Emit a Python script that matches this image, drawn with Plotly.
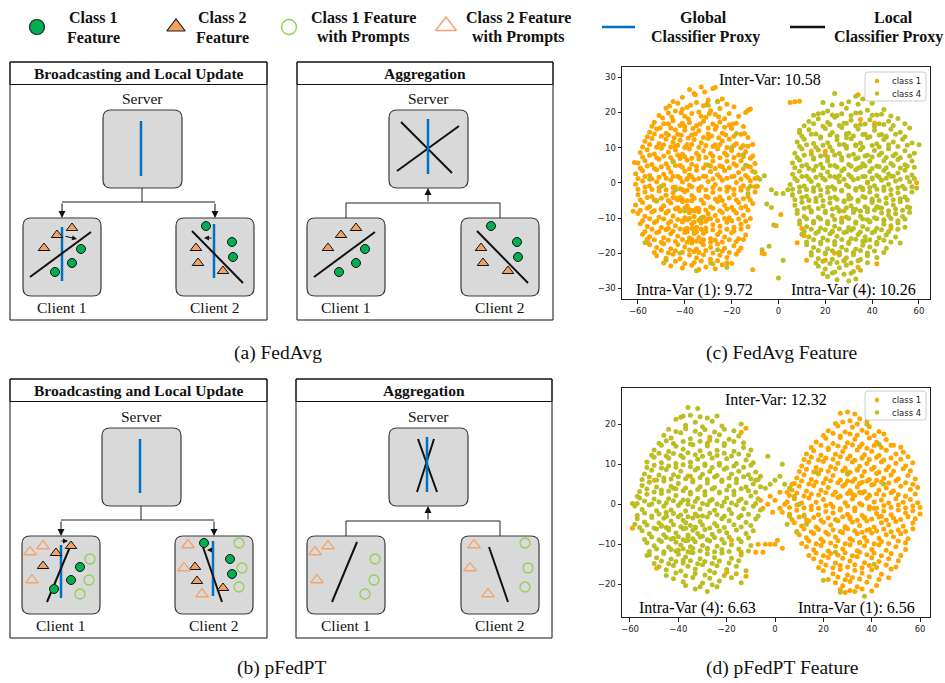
import plotly.graph_objects as go

W, H = 945, 683

# ---------------- t-SNE feature coordinates ----------------
# FedAvg features: class 1 (left cluster) and class 4 (right cluster)
fedavg_class1 = [
    (-38, 26.5), (-33, 27.2), (-28, 26.8), (-27, 27.1),
    (-45, 23.1), (-41, 24.3), (-36, 25.4), (-30, 23.5), (-26, 23.2), (-24, 23.8), (-22, 22.3),
    (-48, 21.2), (-43, 22.6), (-39, 21.5), (-35, 22.8), (-32, 21.9), (-29, 20.5), (-19, 21.6),
    (-51, 19.1), (-47, 19.8), (-44, 20.4), (-40, 18.9), (-37, 19.7), (-34, 20.1), (-31, 18.6),
    (-27, 19.4), (-23, 18.2), (-17, 18.9), (-13, 20.6),
    (-53, 17.2), (-49, 16.8), (-45, 17.6), (-42, 16.3), (-38, 17.1), (-35, 16.2), (-32, 17.5),
    (-28, 16.7), (-25, 17.3), (-21, 16.4), (-18, 16.9),
    (-55, 14.4), (-52, 15.3), (-48, 14.1), (-46, 15.6), (-43, 13.8), (-40, 14.9), (-37, 13.6),
    (-34, 14.8), (-30, 13.9), (-27, 15.2), (-24, 14.1), (-20, 15.4), (-16, 13.8), (-13, 12.9),
    (-57, 11.8), (-54, 12.6), (-51, 11.2), (-48, 12.4), (-45, 11.5), (-42, 12.1), (-39, 10.9),
    (-36, 12.3), (-33, 11.4), (-30, 12.6), (-27, 10.8), (-24, 11.9), (-21, 12.4), (-18, 11.1),
    (-15, 10.6), (-11, 10.9),
    (-59, 8.6), (-56, 9.4), (-53, 8.2), (-50, 9.8), (-47, 8.7), (-44, 9.3), (-41, 8.1), (-38, 9.6),
    (-35, 8.4), (-32, 9.1), (-29, 8.3), (-26, 9.7), (-23, 8.5), (-20, 9.2), (-17, 7.9), (-14, 8.8),
    (-11, 7.6),
    (-60, 5.6), (-57, 6.3), (-54, 5.2), (-51, 6.7), (-48, 5.4), (-45, 6.1), (-42, 4.9), (-39, 6.4),
    (-37, 5.3), (-34, 6.8), (-31, 5.1), (-28, 6.2), (-25, 4.8), (-22, 6.1), (-19, 5.4), (-16, 6.3),
    (-13, 4.7), (-10, 5.5),
    (-61, 2.6), (-58, 3.4), (-55, 2.1), (-52, 3.7), (-49, 2.4), (-46, 3.1), (-43, 1.8), (-40, 3.3),
    (-38, 2.2), (-35, 3.6), (-32, 1.9), (-29, 3.2), (-26, 2.3), (-23, 3.5), (-20, 1.7), (-17, 2.9),
    (-14, 2.1), (-11, 3.3), (-9, 1.5),
    (-61, -0.4), (-58, 0.5), (-55, -0.9), (-52, 0.3), (-49, -0.6), (-46, 0.8), (-44, -1.2),
    (-41, 0.2), (-38, -0.7), (-36, 0.9), (-33, -1.1), (-30, 0.4), (-27, -0.5), (-24, 0.7),
    (-21, -1.3), (-18, 0.1), (-15, -0.8), (-12, 0.5), (-9, -1.0),
    (-60, -3.4), (-57, -2.6), (-54, -3.9), (-51, -2.3), (-48, -3.5), (-45, -2.8), (-42, -4.1),
    (-40, -2.5), (-37, -3.6), (-34, -2.2), (-31, -3.8), (-28, -2.7), (-25, -4.0), (-22, -2.4),
    (-19, -3.3), (-16, -2.1), (-13, -3.9), (-10, -2.6),
    (-61, -6.3), (-58, -5.6), (-55, -6.8), (-52, -5.2), (-49, -6.5), (-46, -5.7), (-43, -7.1),
    (-41, -5.4), (-39, -6.6), (-37, -5.1), (-35, -7.2), (-32, -5.8), (-29, -6.9), (-26, -5.3),
    (-23, -6.4), (-20, -7.0), (-17, -5.6), (-14, -6.7), (-11, -5.9),
    (-60, -8.7), (-57, -9.5), (-54, -8.3), (-51, -9.8), (-48, -8.6), (-45, -9.4), (-42, -8.1),
    (-40, -9.9), (-38, -8.5), (-36, -9.6), (-34, -8.2), (-32, -9.7), (-30, -8.8), (-27, -9.3),
    (-24, -8.4), (-21, -9.9), (-18, -8.6), (-15, -9.2), (-12, -10.1),
    (-59, -11.6), (-56, -12.4), (-53, -11.3), (-50, -12.7), (-47, -11.5), (-44, -12.2),
    (-41, -11.1), (-39, -12.9), (-37, -11.7), (-35, -12.6), (-33, -11.4), (-31, -12.8),
    (-28, -11.9), (-25, -12.3), (-22, -11.2), (-19, -12.6), (-16, -11.8), (-13, -12.5),
    (-58, -14.6), (-55, -15.3), (-52, -14.2), (-49, -15.6), (-46, -14.5), (-43, -15.2),
    (-40, -14.1), (-38, -15.7), (-36, -14.4), (-34, -15.5), (-32, -14.3), (-29, -15.8),
    (-26, -14.7), (-23, -15.4), (-20, -14.2), (-17, -15.9), (-14, -14.8),
    (-55, -17.6), (-52, -18.4), (-49, -17.3), (-46, -18.7), (-43, -17.5), (-40, -18.2),
    (-37, -17.1), (-35, -18.8), (-32, -17.6), (-29, -18.3), (-26, -17.4), (-23, -18.6),
    (-19, -17.9), (-16, -18.5),
    (-52, -20.7), (-48, -21.4), (-45, -20.3), (-42, -21.6), (-38, -20.5), (-35, -21.3),
    (-32, -20.4), (-29, -21.7), (-25, -20.6), (-22, -21.2), (-18, -20.3),
    (-46, -23.6), (-41, -24.2), (-37, -23.4), (-34, -24.6), (-31, -23.9), (-27, -24.4),
    (-24, -23.3), (-20, -22.9),
    (-35.5, 25.0), (-31.5, 25.8),
    (-46.5, 21.8), (-41, 20.9), (-37.5, 22.0), (-30.5, 22.4), (-25, 21.1),
    (-49.5, 18.4), (-45.5, 18.7), (-41.5, 19.9), (-38.5, 18.2), (-33, 18.9), (-29.5, 19.6),
    (-25.5, 18.8), (-21, 19.7),
    (-54, 16.1), (-50.5, 15.6), (-47, 16.8), (-44, 15.1), (-41, 16.9), (-36.5, 15.4),
    (-33.5, 16.7), (-30, 15.6), (-26.5, 16.0), (-23, 15.8), (-19.5, 16.7), (-15, 16.0),
    (-56, 13.1), (-53, 13.9), (-50, 13.2), (-47, 13.6), (-44.5, 12.8), (-41.5, 13.5),
    (-38.5, 12.7), (-35.5, 13.9), (-32, 12.9), (-28.5, 13.3), (-25.5, 12.8), (-22.5, 13.6),
    (-19, 13.2), (-14.5, 14.0),
    (-58, 10.2), (-55, 10.9), (-52, 10.1), (-49, 10.8), (-46, 10.2), (-43, 10.7), (-40, 10.0),
    (-37, 10.9), (-34, 10.1), (-31, 10.6), (-28, 10.3), (-25, 10.9), (-22, 10.0), (-19, 10.6),
    (-16, 9.9), (-13, 10.4),
    (-58, 7.3), (-55, 7.8), (-52, 7.1), (-49, 7.6), (-46, 7.2), (-43, 7.9), (-40, 7.4), (-37, 7.0),
    (-34, 7.7), (-31, 7.2), (-28, 7.6), (-25, 7.1), (-22, 7.8), (-19, 7.2), (-15, 7.4), (-12, 7.0),
    (-59, 4.2), (-56, 4.8), (-53, 4.1), (-50, 4.6), (-47, 4.3), (-44, 4.9), (-41, 4.4), (-38, 4.0),
    (-35, 4.7), (-32, 4.2), (-29, 4.8), (-27, 4.1), (-24, 4.6), (-21, 4.3), (-18, 4.9), (-15, 4.0),
    (-12, 4.5),
    (-60, 1.2), (-57, 1.8), (-54, 1.1), (-51, 1.6), (-48, 1.3), (-45, 1.9), (-42, 1.4), (-39, 1.0),
    (-37, 1.7), (-34, 1.2), (-31, 1.8), (-28, 1.1), (-25, 1.6), (-22, 1.3), (-19, 1.9), (-16, 1.0),
    (-13, 1.5), (-10, 1.2),
    (-60, -1.8), (-57, -1.2), (-54, -1.9), (-51, -1.4), (-48, -2.0), (-45, -1.3), (-42, -1.7),
    (-39, -2.1), (-37, -1.1), (-34, -1.6), (-31, -2.0), (-28, -1.3), (-25, -1.8), (-22, -1.2),
    (-19, -1.9), (-16, -1.4), (-13, -1.7), (-10, -1.1),
    (-59, -4.8), (-56, -4.2), (-53, -4.9), (-50, -4.4), (-47, -5.0), (-44, -4.3), (-41, -4.7),
    (-39, -5.1), (-36, -4.4), (-33, -4.9), (-30, -4.2), (-27, -4.6), (-24, -5.0), (-21, -4.3),
    (-18, -4.8), (-15, -4.5), (-12, -4.9),
    (-59, -7.8), (-56, -7.2), (-53, -7.9), (-50, -7.3), (-47, -8.0), (-44, -7.4), (-42, -7.8),
    (-40, -7.1), (-38, -7.6), (-36, -8.0), (-34, -7.3), (-31, -7.7), (-28, -7.2), (-25, -7.9),
    (-22, -7.4), (-19, -7.8), (-16, -7.1), (-13, -7.7),
    (-58, -10.8), (-55, -10.2), (-52, -10.9), (-49, -10.3), (-46, -11.0), (-43, -10.4),
    (-41, -10.8), (-38, -10.1), (-36, -11.1), (-33, -10.3), (-31, -10.9), (-29, -10.2),
    (-26, -10.7), (-23, -10.1), (-20, -10.8), (-17, -10.3), (-14, -10.9),
    (-57, -13.8), (-54, -13.2), (-51, -13.9), (-48, -13.3), (-45, -13.7), (-42, -13.1),
    (-39, -13.9), (-37, -13.0), (-35, -14.0), (-33, -13.2), (-31, -13.8), (-28, -13.3),
    (-25, -13.9), (-22, -13.2), (-19, -13.7), (-16, -13.1),
    (-56, -16.8), (-53, -16.2), (-50, -16.9), (-47, -16.3), (-44, -16.7), (-41, -16.1),
    (-39, -16.9), (-37, -16.0), (-35, -16.6), (-32, -16.2), (-29, -16.9), (-27, -16.3),
    (-24, -16.8), (-21, -16.2), (-18, -16.7), (-15, -16.1),
    (-53, -19.8), (-50, -19.2), (-47, -19.9), (-44, -19.3), (-41, -19.7), (-38, -19.1),
    (-34, -19.8), (-31, -19.2), (-28, -19.9), (-24, -19.4), (-21, -19.8), (-17, -19.3),
    (-49, -22.8), (-44, -22.3), (-40, -22.9), (-36, -22.6), (-33, -22.2), (-29, -22.8),
    (-26, -22.1), (-22, -22.7),
    (-39, -10.5), (-36, -13.5), (-34, -10.6), (-38, -16.4), (-40, -13.2), (-37, -7.8),
    (-43, -4.8), (-41, -1.9), (-45, -4.2), (-39, 1.2), (-42, 6.9), (-36, -19.5), (-33, -16.9),
    (-30, -10.2), (-44, 10.4), (-40, 16.0), (-47, -12.9), (-50, -7.6),
    (-62, -8.1), (-61.5, 5.8), (-56, -16.0), (-11, -24.7),
    (7, 23.0), (9, 23.2), (5, 22.8), (-14, 20.0), (-12, 21.0), (-7, -20.0), (-6, -20.2),
    (-1, -12.2), (1, -9.0), (10, -13.0), (11, -15.0), (20, -22.0), (24, -20.0), (28, -22.0),
    (34, -24.0), (42, -23.0), (48, -13.0), (59, 0.0), (40, -5.0), (38, 0.0), (35, 18.0),
    (41, 17.0), (27, -10.0), (20, 9.0), (23, -14.0), (13, -5.0), (14, 9.0), (34, 25.0),
    (46, 13.0), (12, -22.0), (8, -17.0),
]

fedavg_class4 = [
    (24, 25.4), (27, 22.4), (33, 24.6), (36, 23.8),
    (17, 19.6), (21, 20.4), (25, 19.1), (29, 21.2), (33, 19.8), (38, 20.6), (42, 19.3), (45, 20.8),
    (13, 17.4), (17, 18.2), (21, 17.1), (24, 18.6), (28, 16.9), (31, 17.8), (35, 16.6), (39, 17.9),
    (43, 16.8), (47, 17.5), (51, 18.3),
    (9, 14.2), (13, 15.1), (16, 13.9), (20, 15.4), (23, 14.3), (27, 15.7), (30, 14.1), (34, 15.3),
    (37, 13.8), (41, 14.9), (44, 13.7), (48, 15.2), (52, 14.4), (56, 15.6),
    (8, 11.6), (11, 12.4), (15, 11.2), (18, 12.7), (21, 11.4), (25, 12.2), (28, 10.9), (31, 12.5),
    (35, 11.3), (38, 12.8), (42, 11.1), (45, 12.3), (49, 11.6), (53, 12.4), (57, 11.3),
    (7, 8.4), (10, 9.6), (14, 8.2), (17, 9.3), (20, 7.9), (23, 9.1), (26, 8.3), (29, 9.8), (32, 8.1),
    (35, 9.4), (38, 7.8), (41, 9.2), (44, 8.5), (47, 9.7), (50, 8.2), (54, 9.1), (58, 8.4),
    (6, 5.6), (9, 6.4), (12, 5.1), (15, 6.7), (18, 5.3), (21, 6.2), (24, 4.9), (27, 6.5), (30, 5.2),
    (33, 6.8), (36, 5.4), (39, 6.1), (42, 4.8), (45, 6.3), (48, 5.5), (51, 6.6), (54, 5.1), (57, 6.2),
    (6, 2.4), (9, 3.3), (12, 1.9), (15, 3.6), (18, 2.2), (21, 3.1), (24, 1.7), (27, 3.4), (30, 2.3),
    (33, 3.7), (36, 1.8), (39, 3.2), (42, 2.1), (45, 3.5), (48, 1.9), (51, 2.8), (54, 3.6), (57, 2.2),
    (5, -0.5), (8, 0.6), (11, -0.9), (14, 0.4), (17, -0.7), (20, 0.8), (23, -1.1), (26, 0.3),
    (29, -0.6), (32, 0.9), (35, -1.2), (38, 0.2), (41, -0.8), (44, 0.7), (47, -0.4), (50, 0.5),
    (53, -1.0), (56, 0.3),
    (6, -3.3), (9, -2.5), (12, -3.8), (15, -2.4), (18, -3.6), (21, -2.7), (24, -4.1), (27, -2.3),
    (30, -3.5), (33, -2.1), (36, -3.9), (39, -2.6), (42, -3.7), (45, -2.2), (48, -3.4), (51, -2.8),
    (54, -4.0), (57, -2.6),
    (7, -6.4), (10, -5.5), (13, -6.9), (16, -5.3), (19, -6.6), (22, -5.7), (25, -7.0), (28, -5.4),
    (31, -6.5), (34, -5.2), (37, -6.8), (40, -5.6), (43, -7.1), (46, -5.8), (49, -6.3), (52, -5.4),
    (55, -6.9),
    (8, -8.7), (11, -9.6), (14, -8.3), (17, -9.8), (20, -8.5), (23, -9.3), (26, -8.1), (29, -9.7),
    (32, -8.4), (35, -9.5), (38, -8.2), (41, -9.9), (44, -8.6), (47, -9.2), (50, -8.8), (53, -9.6),
    (56, -8.4),
    (9, -11.7), (12, -12.5), (15, -11.4), (18, -12.8), (21, -11.6), (24, -12.3), (27, -11.2),
    (30, -12.7), (33, -11.5), (36, -12.4), (39, -11.1), (42, -12.9), (45, -11.8), (48, -12.2),
    (51, -11.4), (54, -12.6),
    (10, -14.6), (13, -15.4), (16, -14.3), (19, -15.7), (22, -14.5), (25, -15.2), (28, -14.1),
    (31, -15.8), (34, -14.7), (37, -15.3), (40, -14.2), (43, -15.6), (46, -14.8), (50, -15.4),
    (12, -17.6), (15, -18.4), (18, -17.3), (21, -18.7), (24, -17.5), (27, -18.3), (30, -17.2),
    (33, -18.8), (36, -17.7), (39, -18.2), (42, -17.4), (46, -18.6), (52, -17.1),
    (14, -20.6), (17, -21.5), (20, -20.2), (23, -21.7), (26, -20.5), (29, -21.3), (32, -20.4),
    (35, -21.8), (38, -20.7), (42, -21.2),
    (17, -23.7), (20, -24.5), (23, -25.6), (26, -24.1), (29, -23.4), (32, -25.2), (35, -24.8),
    (21, -26.6), (25, -27.5), (30, -27.9), (33, -27.3),
    (19, 22.8), (23, 22.1), (30, 23.0), (34, 22.3), (40, 22.6),
    (15, 19.2), (19, 19.8), (23, 19.3), (27, 19.6), (31, 19.1), (35, 19.9), (40, 19.2), (44, 19.5),
    (48, 19.0),
    (11, 16.2), (15, 16.8), (19, 16.1), (22, 16.6), (26, 16.3), (29, 16.9), (33, 16.2), (37, 16.7),
    (41, 16.1), (45, 16.6), (49, 16.3), (54, 16.8),
    (10, 13.2), (14, 13.8), (18, 13.1), (22, 13.6), (25, 13.2), (29, 13.9), (32, 13.3), (36, 13.7),
    (39, 13.1), (43, 13.6), (46, 13.2), (50, 13.8), (54, 13.1),
    (9, 10.3), (12, 10.8), (16, 10.1), (19, 10.7), (22, 10.2), (26, 10.9), (29, 10.4), (33, 10.8),
    (36, 10.1), (40, 10.6), (43, 10.2), (47, 10.8), (51, 10.3), (55, 10.7),
    (8, 7.2), (11, 7.8), (15, 7.1), (18, 7.6), (21, 7.3), (24, 7.9), (27, 7.2), (30, 7.7), (34, 7.1),
    (37, 7.6), (40, 7.3), (43, 7.9), (46, 7.2), (49, 7.7), (52, 7.1), (56, 7.6),
    (7, 4.3), (10, 4.8), (13, 4.1), (16, 4.7), (19, 4.2), (22, 4.9), (25, 4.4), (28, 4.0), (31, 4.7),
    (34, 4.2), (37, 4.8), (40, 4.1), (43, 4.6), (46, 4.3), (49, 4.9), (52, 4.2), (55, 4.7), (58, 4.4),
    (7, 1.2), (10, 1.8), (13, 1.1), (16, 1.6), (19, 1.3), (22, 1.9), (25, 1.4), (28, 1.0), (31, 1.7),
    (34, 1.2), (37, 1.8), (40, 1.1), (43, 1.6), (46, 1.3), (49, 1.9), (52, 1.0), (55, 1.5), (58, 1.2),
    (6, -1.8), (9, -1.2), (12, -1.9), (15, -1.4), (18, -2.0), (21, -1.3), (24, -1.7), (27, -2.1),
    (30, -1.1), (33, -1.6), (36, -2.0), (39, -1.3), (42, -1.8), (45, -1.2), (48, -1.9), (51, -1.4),
    (54, -1.7), (57, -1.1),
    (7, -4.8), (10, -4.2), (13, -4.9), (16, -4.4), (19, -5.0), (22, -4.3), (25, -4.7), (28, -5.1),
    (31, -4.4), (34, -4.9), (37, -4.2), (40, -4.6), (43, -5.0), (46, -4.3), (49, -4.8), (52, -4.5),
    (55, -4.9),
    (8, -7.8), (11, -7.2), (14, -7.9), (17, -7.3), (20, -8.0), (23, -7.4), (26, -7.8), (29, -7.1),
    (32, -7.6), (35, -8.0), (38, -7.3), (41, -7.7), (44, -7.2), (47, -7.9), (50, -7.4), (53, -7.8),
    (56, -7.1),
    (9, -10.8), (12, -10.2), (15, -10.9), (18, -10.3), (21, -11.0), (24, -10.4), (27, -10.8),
    (30, -10.1), (33, -11.1), (36, -10.3), (39, -10.9), (42, -10.2), (45, -10.7), (48, -10.1),
    (51, -10.8), (54, -10.3),
    (11, -13.8), (14, -13.2), (17, -13.9), (20, -13.3), (23, -13.7), (26, -13.1), (29, -13.9),
    (32, -13.0), (35, -14.0), (38, -13.2), (41, -13.8), (44, -13.3), (47, -13.9), (51, -13.2),
    (12, -16.8), (15, -16.2), (18, -16.9), (21, -16.3), (24, -16.7), (27, -16.1), (30, -16.9),
    (33, -16.0), (36, -16.6), (39, -16.2), (42, -16.9), (45, -16.3), (48, -16.8),
    (14, -19.8), (17, -19.2), (20, -19.9), (23, -19.3), (26, -19.7), (29, -19.1), (32, -19.8),
    (35, -19.2), (38, -19.9), (41, -19.4), (45, -19.8),
    (16, -22.8), (19, -22.3), (22, -22.9), (25, -22.6), (28, -22.2), (31, -22.8), (34, -22.1),
    (38, -22.7),
    (19, -25.8), (24, -25.3), (28, -26.0), (31, -25.7),
    (30, -4.6), (33, -7.5), (36, -1.6), (38, -10.5), (40, 1.4), (35, 4.4), (28, -8.0), (31, -13.5),
    (42, -6.8), (26, 2.0), (45, -10.5), (33, 10.5), (24, -1.8), (47, 2.5), (37, -16.5), (29, 12.8),
    (9, 14.9), (60, 10.8), (59, -1.5),
    (-10, 3.0), (-8, 1.0), (-6, 2.0), (-3, -2.0), (-1, -3.0), (2, -3.0), (4, -2.0), (6, -3.5),
    (-5, -6.0), (-3, -7.0), (-2, -12.0), (-4, -18.0), (-7, -19.0), (0, -27.0), (2, -22.0),
    (-12, -1.0), (-14, 5.0), (-13, -3.0),
    (-57, -17.0), (-48, -22.0), (-42, -20.0), (-35, -25.0), (-28, -23.0), (-22, -24.0),
    (-26, -19.0), (-52, -5.0), (-55, 1.0), (-45, 6.0), (-30, 5.0), (-30, 22.0), (-26, 23.0),
    (-20, 10.0), (-18, 14.0), (-15, 8.0), (-40, -8.0), (-33, -10.0), (-50, -1.0), (-44, -2.0),
]

# pFedPT features: class 4 (left cluster) and class 1 (right cluster)
pfedpt_class4 = [
    (-36, 24.2), (-32, 24.0), (-38, 22.1), (-28, 21.6),
    (-41, 21.3), (-37, 19.8), (-33, 20.5), (-30, 19.4), (-26, 20.8), (-22, 19.6), (-14, 20.1),
    (-46, 17.3), (-43, 16.6), (-39, 17.9), (-35, 16.4), (-31, 17.5), (-27, 16.8), (-23, 17.4),
    (-19, 16.3), (-15, 17.1),
    (-50, 13.6), (-47, 14.8), (-44, 13.2), (-41, 14.5), (-38, 13.8), (-34, 14.9), (-31, 13.4),
    (-28, 14.6), (-24, 13.5), (-21, 14.7), (-17, 13.3), (-13, 14.2), (-10, 13.6),
    (-53, 10.6), (-50, 11.8), (-47, 10.4), (-44, 11.5), (-41, 10.2), (-38, 11.7), (-35, 10.5),
    (-32, 11.3), (-29, 10.1), (-26, 11.6), (-23, 10.3), (-20, 11.4), (-16, 10.2), (-12, 11.1),
    (-9, 10.4),
    (-54, 7.6), (-51, 8.5), (-48, 7.3), (-45, 8.7), (-42, 7.4), (-39, 8.3), (-36, 7.1), (-33, 8.6),
    (-30, 7.5), (-27, 8.2), (-24, 7.2), (-21, 8.8), (-18, 7.6), (-15, 8.3), (-11, 7.4), (-8, 8.1),
    (-55, 4.7), (-52, 5.5), (-49, 4.3), (-46, 5.8), (-43, 4.5), (-40, 5.2), (-37, 4.1), (-34, 5.6),
    (-31, 4.4), (-28, 5.3), (-25, 4.2), (-22, 5.7), (-19, 4.6), (-16, 5.4), (-12, 4.3), (-9, 5.1),
    (-6, 4.4),
    (-56, 1.6), (-53, 2.5), (-50, 1.3), (-47, 2.7), (-44, 1.4), (-41, 2.2), (-38, 1.1), (-35, 2.6),
    (-32, 1.5), (-29, 2.3), (-26, 1.2), (-23, 2.8), (-20, 1.6), (-17, 2.4), (-14, 1.3), (-10, 2.1),
    (-7, 1.4),
    (-58, -0.4), (-55, -1.3), (-52, -0.2), (-49, -1.6), (-46, -0.5), (-43, -1.4), (-40, -0.3),
    (-37, -1.7), (-34, -0.6), (-31, -1.2), (-28, -0.1), (-25, -1.5), (-22, -0.4), (-19, -1.3),
    (-16, -0.2), (-13, -1.1), (-9, -0.5), (-6, -1.4),
    (-57, -3.6), (-54, -4.4), (-51, -3.3), (-48, -4.7), (-46, -3.5), (-43, -4.2), (-40, -3.1),
    (-37, -4.6), (-34, -3.4), (-31, -4.3), (-28, -3.2), (-25, -4.8), (-22, -3.6), (-19, -4.1),
    (-15, -3.3), (-12, -4.5), (-8, -3.7),
    (-55, -6.6), (-52, -7.4), (-49, -6.2), (-46, -7.6), (-44, -6.4), (-41, -7.2), (-38, -6.1),
    (-36, -7.7), (-34, -6.5), (-32, -7.3), (-29, -6.3), (-26, -7.5), (-23, -6.7), (-20, -7.1),
    (-16, -6.4), (-12, -7.3), (-9, -6.6),
    (-53, -9.6), (-50, -10.4), (-47, -9.3), (-44, -10.7), (-41, -9.5), (-39, -10.2), (-37, -9.1),
    (-35, -10.6), (-33, -9.4), (-30, -10.3), (-27, -9.2), (-24, -10.5), (-21, -9.7), (-18, -10.1),
    (-14, -9.4), (-10, -10.3),
    (-52, -12.6), (-49, -13.4), (-46, -12.3), (-43, -13.7), (-40, -12.5), (-37, -13.2),
    (-34, -12.1), (-31, -13.6), (-28, -12.4), (-25, -13.3), (-22, -12.2), (-18, -13.5),
    (-14, -12.7),
    (-48, -15.6), (-45, -16.4), (-42, -15.3), (-39, -16.7), (-36, -15.5), (-33, -16.2),
    (-30, -15.1), (-27, -16.6), (-24, -15.4), (-20, -16.3), (-16, -15.5), (-12, -16.6),
    (-42, -18.6), (-38, -19.4), (-34, -18.3), (-30, -19.7), (-27, -18.5), (-23, -19.2),
    (-18, -18.4), (-14, -19.6),
    (-33, -21.2), (-28, -21.8), (-24, -20.6),
    (-39, 21.8), (-35, 22.3), (-31, 21.9), (-24, 22.1),
    (-44, 18.8), (-41, 18.2), (-37, 18.9), (-33, 18.3), (-29, 18.7), (-25, 18.1), (-21, 18.8),
    (-17, 18.4),
    (-48, 15.3), (-45, 15.9), (-42, 15.2), (-38, 15.7), (-35, 15.1), (-31, 15.8), (-28, 15.3),
    (-24, 15.9), (-21, 15.2), (-17, 15.7), (-13, 15.4),
    (-51, 12.3), (-48, 12.8), (-45, 12.1), (-42, 12.7), (-39, 12.2), (-36, 12.9), (-33, 12.4),
    (-30, 12.0), (-27, 12.7), (-24, 12.2), (-21, 12.8), (-18, 12.1), (-15, 12.6), (-11, 12.3),
    (-53, 9.2), (-50, 9.8), (-47, 9.1), (-44, 9.6), (-41, 9.3), (-38, 9.9), (-35, 9.4), (-32, 9.0),
    (-29, 9.7), (-26, 9.2), (-23, 9.8), (-20, 9.1), (-17, 9.6), (-13, 9.3), (-10, 9.8),
    (-55, 6.2), (-52, 6.8), (-49, 6.1), (-46, 6.6), (-43, 6.3), (-40, 6.9), (-37, 6.4), (-34, 6.0),
    (-31, 6.7), (-28, 6.2), (-25, 6.8), (-22, 6.1), (-19, 6.6), (-16, 6.3), (-13, 6.9), (-10, 6.4),
    (-7, 6.2),
    (-56, 3.2), (-53, 3.8), (-50, 3.1), (-47, 3.6), (-44, 3.3), (-41, 3.9), (-38, 3.4), (-35, 3.0),
    (-32, 3.7), (-29, 3.2), (-26, 3.8), (-23, 3.1), (-20, 3.6), (-17, 3.3), (-14, 3.9), (-11, 3.4),
    (-8, 3.0),
    (-57, 0.2), (-54, 0.8), (-51, 0.1), (-48, 0.6), (-45, 0.3), (-42, 0.9), (-39, 0.4), (-36, 0.0),
    (-33, 0.7), (-30, 0.2), (-27, 0.8), (-24, 0.1), (-21, 0.6), (-18, 0.3), (-15, 0.9), (-12, 0.4),
    (-8, 0.2),
    (-57, -2.8), (-54, -2.2), (-51, -2.9), (-48, -2.4), (-45, -3.0), (-42, -2.3), (-39, -2.7),
    (-36, -3.1), (-33, -2.4), (-30, -2.9), (-27, -2.2), (-24, -2.6), (-21, -3.0), (-18, -2.3),
    (-14, -2.8), (-11, -2.5), (-7, -2.9),
    (-56, -5.8), (-53, -5.2), (-50, -5.9), (-47, -5.3), (-45, -5.8), (-42, -5.1), (-39, -5.6),
    (-37, -6.0), (-35, -5.3), (-33, -5.7), (-30, -5.2), (-27, -5.9), (-24, -5.4), (-21, -5.8),
    (-17, -5.1), (-14, -5.7), (-10, -5.3),
    (-54, -8.8), (-51, -8.2), (-48, -8.9), (-45, -8.3), (-43, -8.7), (-40, -8.1), (-38, -8.9),
    (-36, -8.0), (-34, -8.6), (-31, -8.2), (-28, -8.9), (-25, -8.3), (-22, -8.8), (-19, -8.2),
    (-15, -8.7), (-11, -8.4),
    (-52, -11.8), (-49, -11.2), (-46, -11.9), (-43, -11.3), (-41, -11.7), (-38, -11.1),
    (-36, -11.9), (-34, -11.0), (-31, -11.6), (-28, -11.2), (-25, -11.9), (-22, -11.3),
    (-19, -11.8), (-15, -11.2), (-11, -11.7),
    (-50, -14.8), (-47, -14.2), (-44, -14.9), (-41, -14.3), (-38, -14.7), (-35, -14.1),
    (-32, -14.9), (-29, -14.3), (-26, -14.8), (-23, -14.2), (-19, -14.7), (-15, -14.1),
    (-45, -17.8), (-41, -17.2), (-37, -17.9), (-33, -17.3), (-29, -17.7), (-25, -17.1),
    (-21, -17.8), (-16, -17.4),
    (-37, -20.3), (-31, -20.6), (-26, -20.1),
    (-59, 0.2), (-58, -5.0), (-57, 2.0), (-53, -12.8),
    (-36, -9.0), (-33, -6.0), (-38, -4.0), (-42, -8.5), (-35, -12.0), (-30, -8.0), (-45, -2.0),
    (-40, -11.5), (-32, -3.0), (-44, -6.0), (-38, -14.0), (-28, -11.0), (-47, -5.5), (-36, 1.0),
    (-42, 4.0),
    (-8, 6.0), (-6, 7.0), (-4, 4.0), (-2, 5.0), (0, 6.0), (2, 7.0), (4, 5.0), (6, 4.0), (3, 10.0),
    (-3, 12.0), (8, 2.0), (10, 0.0), (6, -3.0), (9, -7.0), (13, -5.0), (12, -3.0), (5, -5.0),
    (20, -19.0), (27, -22.0), (37, -23.0), (38, 20.0), (43, 15.0), (17, 8.0), (25, -12.0),
    (30, 8.0), (45, 5.0), (41, -15.0),
]

pfedpt_class1 = [
    (27, 22.8), (30, 23.1), (33, 22.6), (28, 20.6), (35, 21.4),
    (22, 18.4), (26, 19.6), (29, 18.1), (32, 19.3), (36, 18.5), (39, 19.4), (43, 18.2),
    (17, 15.6), (21, 16.5), (24, 15.2), (27, 16.7), (30, 15.4), (33, 16.3), (36, 15.1), (39, 16.6),
    (42, 15.5), (46, 16.2), (49, 14.8),
    (13, 12.6), (16, 13.4), (19, 12.3), (22, 13.7), (25, 12.5), (28, 13.2), (31, 12.1), (34, 13.6),
    (37, 12.4), (40, 13.3), (43, 12.2), (46, 13.5), (50, 12.6), (53, 13.1),
    (11, 9.6), (14, 10.5), (17, 9.2), (20, 10.7), (23, 9.4), (26, 10.3), (29, 9.1), (32, 10.6),
    (35, 9.5), (38, 10.2), (41, 9.3), (44, 10.6), (47, 9.4), (50, 10.3), (54, 9.6), (57, 10.4),
    (9, 6.6), (12, 7.4), (15, 6.2), (18, 7.6), (21, 6.4), (24, 7.2), (27, 6.1), (30, 7.5), (33, 6.3),
    (36, 7.1), (39, 6.2), (42, 7.7), (45, 6.5), (48, 7.3), (51, 6.4), (55, 7.2), (58, 6.3),
    (7, 3.6), (10, 4.5), (13, 3.3), (16, 4.7), (19, 3.5), (22, 4.2), (25, 3.1), (28, 4.6), (31, 3.4),
    (34, 4.3), (37, 3.2), (40, 4.8), (43, 3.6), (46, 4.1), (49, 3.3), (52, 4.5), (56, 3.7), (59, 4.2),
    (5, 0.6), (8, 1.4), (11, 0.3), (14, 1.6), (17, 0.5), (20, 1.2), (23, 0.1), (26, 1.7), (29, 0.4),
    (32, 1.3), (35, 0.2), (38, 1.5), (41, 0.6), (44, 1.1), (47, 0.3), (50, 1.4), (53, 0.5), (56, 1.2),
    (59, 0.4),
    (6, -2.4), (9, -1.5), (12, -2.7), (15, -1.3), (18, -2.6), (21, -1.8), (24, -2.2), (27, -1.4),
    (30, -2.5), (33, -1.6), (36, -2.8), (39, -1.2), (42, -2.3), (45, -1.7), (48, -2.6), (51, -1.4),
    (54, -2.2), (57, -1.6), (60, -2.4),
    (8, -4.6), (11, -5.4), (14, -4.2), (17, -5.7), (20, -4.5), (23, -5.2), (26, -4.1), (29, -5.6),
    (32, -4.4), (35, -5.3), (38, -4.2), (41, -5.7), (44, -4.6), (47, -5.1), (50, -4.3), (53, -5.5),
    (57, -4.7),
    (10, -7.6), (13, -8.4), (16, -7.3), (19, -8.7), (22, -7.5), (25, -8.2), (28, -7.1), (31, -8.6),
    (34, -7.4), (37, -8.3), (40, -7.2), (43, -8.5), (46, -7.6), (49, -8.1), (52, -7.4), (55, -8.6),
    (13, -10.6), (16, -11.4), (19, -10.3), (22, -11.7), (25, -10.5), (28, -11.2), (31, -10.1),
    (34, -11.6), (37, -10.4), (40, -11.3), (43, -10.2), (46, -11.5), (50, -10.6), (54, -11.3),
    (16, -13.6), (19, -14.4), (22, -13.3), (25, -14.7), (28, -13.5), (31, -14.2), (34, -13.1),
    (37, -14.6), (40, -13.4), (43, -14.3), (47, -13.6), (51, -14.1),
    (20, -16.6), (24, -17.4), (27, -16.3), (30, -17.7), (33, -16.5), (36, -17.2), (40, -16.4),
    (44, -17.5), (48, -16.2),
    (25, -19.6), (28, -20.4), (31, -19.3), (34, -20.6), (38, -19.5), (42, -20.3),
    (29, -22.1), (33, -21.8),
    (25, 20.2), (31, 20.9), (34, 20.1), (38, 20.7),
    (20, 17.2), (24, 17.8), (27, 17.1), (31, 17.6), (34, 17.3), (38, 17.9), (41, 17.2), (45, 17.6),
    (15, 14.2), (19, 14.8), (22, 14.1), (26, 14.6), (29, 14.3), (32, 14.9), (35, 14.4), (38, 14.0),
    (41, 14.7), (44, 14.2), (48, 14.8), (52, 14.3),
    (12, 11.2), (15, 11.8), (18, 11.1), (21, 11.6), (24, 11.3), (27, 11.9), (30, 11.4), (33, 11.0),
    (36, 11.7), (39, 11.2), (42, 11.8), (45, 11.1), (48, 11.6), (52, 11.3), (55, 11.9),
    (10, 8.2), (13, 8.8), (16, 8.1), (19, 8.6), (22, 8.3), (25, 8.9), (28, 8.4), (31, 8.0), (34, 8.7),
    (37, 8.2), (40, 8.8), (43, 8.1), (46, 8.6), (49, 8.3), (53, 8.9), (56, 8.4),
    (8, 5.2), (11, 5.8), (14, 5.1), (17, 5.6), (20, 5.3), (23, 5.9), (26, 5.4), (29, 5.0), (32, 5.7),
    (35, 5.2), (38, 5.8), (41, 5.1), (44, 5.6), (47, 5.3), (50, 5.9), (54, 5.4), (57, 5.0),
    (6, 2.2), (9, 2.8), (12, 2.1), (15, 2.6), (18, 2.3), (21, 2.9), (24, 2.4), (27, 2.0), (30, 2.7),
    (33, 2.2), (36, 2.8), (39, 2.1), (42, 2.6), (45, 2.3), (48, 2.9), (51, 2.4), (54, 2.0), (58, 2.6),
    (6, -0.8), (9, -0.2), (12, -0.9), (15, -0.4), (18, -1.0), (21, -0.3), (24, -0.7), (27, -1.1),
    (30, -0.4), (33, -0.9), (36, -0.2), (39, -0.6), (42, -1.0), (45, -0.3), (48, -0.8), (51, -0.2),
    (54, -0.9), (57, -0.4), (60, -0.8),
    (7, -3.8), (10, -3.2), (13, -3.9), (16, -3.3), (19, -4.0), (22, -3.4), (25, -3.8), (28, -3.1),
    (31, -3.6), (34, -4.0), (37, -3.3), (40, -3.7), (43, -3.2), (46, -3.9), (49, -3.4), (52, -3.8),
    (55, -3.1), (58, -3.6),
    (9, -6.8), (12, -6.2), (15, -6.9), (18, -6.3), (21, -7.0), (24, -6.4), (27, -6.8), (30, -6.1),
    (33, -6.6), (36, -7.0), (39, -6.3), (42, -6.7), (45, -6.2), (48, -6.9), (51, -6.4), (54, -6.8),
    (57, -6.1),
    (11, -9.8), (14, -9.2), (17, -9.9), (20, -9.3), (23, -9.7), (26, -9.1), (29, -9.9), (32, -9.0),
    (35, -9.6), (38, -9.2), (41, -9.9), (44, -9.3), (47, -9.8), (51, -9.2), (54, -9.7),
    (14, -12.8), (17, -12.2), (20, -12.9), (23, -12.3), (26, -12.7), (29, -12.1), (32, -12.9),
    (35, -12.0), (38, -12.6), (41, -12.2), (44, -12.9), (48, -12.3), (52, -12.8),
    (18, -15.8), (21, -15.2), (24, -15.9), (27, -15.3), (30, -15.7), (33, -15.1), (36, -15.9),
    (39, -15.3), (42, -15.8), (46, -15.2), (50, -15.7),
    (22, -18.8), (26, -18.2), (29, -18.9), (32, -18.3), (35, -18.7), (39, -18.1), (43, -18.8),
    (47, -18.4),
    (27, -21.3), (31, -21.6), (36, -21.2), (40, -21.7),
    (35, 3.0), (33, -1.0), (37, -3.5), (36, 5.5), (32, 2.6), (38, -6.5), (34, 8.5), (31, -3.2),
    (39, 2.3), (41, -1.0), (35, -9.5), (30, 5.8), (42, 6.0), (36, 11.5), (29, -6.0), (44, -3.0),
    (-3, 0.0), (-2, 2.0), (-1, -2.0), (0, 1.0), (2, -1.0), (4, 0.0), (-5, -1.0), (-6, 1.0),
    (-4, -10.0), (-2, -10.0), (0, -10.0), (1, -9.0), (3, -2.0), (5, 3.0), (7, 5.0), (-7, -10.0),
    (-8, -12.0), (-5, -12.0), (3, -11.0), (2, 3.0),
    (-59, -6.0), (-49, -16.0), (-50, 6.0), (-35, 7.0), (-27, 16.0), (-14, 18.0), (-12, 19.0),
    (-18, -9.0), (-14, -12.0), (-20, -17.0), (-12, -18.0), (-45, -3.0),
]

fedavg_notes = ["Inter-Var: 10.58", "Intra-Var (1): 9.72", "Intra-Var (4): 10.26"]
pfedpt_notes = ["Inter-Var: 12.32", "Intra-Var (4): 6.63", "Intra-Var (1): 6.56"]
legend_classes = ["class 1", "class 4"]
x_ticks = [-60, -40, -20, 0, 20, 40, 60]
fedavg_y_ticks = [-30, -20, -10, 0, 10, 20, 30]
pfedpt_y_ticks = [-20, -10, 0, 10, 20]
captions = ["(a) FedAvg", "(c) FedAvg Feature", "(b) pFedPT", "(d) pFedPT Feature"]

# ---------------- schematic contents (pixel offsets inside a client box) ----------------
client_sets = {
    "fedavg_c1": dict(tri=[(49, 10), (34, 17), (21, 30)], circ=[(58, 31), (49, 45), (32, 54)],
                      tri_open=[], circ_open=[], local=[(7, 59), (68, 14)],
                      glob=(39, 9, 63), drift=((41, 18), (54, 21))),
    "fedavg_c2": dict(tri=[(20, 30), (22, 45), (47, 53)], circ=[(30, 8), (56, 24), (57, 39)],
                      tri_open=[], circ_open=[], local=[(16, 13), (67, 65)],
                      glob=(38, 6, 60), drift=((37, 20), (28, 20))),
    "pfedpt_c1": dict(tri=[(49, 10), (34, 17), (21, 30)], circ=[(58, 31), (49, 44), (32, 53)],
                      tri_open=[(8, 16), (21, 10), (10, 44)], circ_open=[(68, 23), (67, 44), (58, 58)],
                      local=[(25, 66), (50, 6)], glob=(39, 9, 62), drift=((38, 5), (46, 5))),
    "pfedpt_c2": dict(tri=[(20, 31), (22, 45), (48, 52)], circ=[(29, 7), (55, 23), (57, 38)],
                      tri_open=[(13, 9), (9, 32), (27, 58)], circ_open=[(64, 7), (67, 32), (64, 51)],
                      local=[(28, 11), (47, 66)], glob=(38, 5, 60), drift=((38, 14), (32, 14))),
}

# ---------------- colours & fonts ----------------
ORANGE = "#ffa500"
OLIVE = "#bcbd22"
GREEN = "#00b050"
LIGHT_GREEN = "#92d050"
TRI_FILL = "#f4a261"
TRI_OPEN = "#f4a46c"
BLUE = "#0070c0"
BOX_GRAY = "#d9d9d9"
SERIF = "Liberation Serif"
SANS = "DejaVu Sans"

fig = go.Figure()
shapes = []
anns = []


def px_trace(x, y, **kw):
    fig.add_trace(go.Scatter(x=x, y=y, xaxis="x3", yaxis="y3", showlegend=False,
                             hoverinfo="skip", **kw))


def rrect_path(x0, y0, x1, y1, r):
    return (f"M{x0 + r},{y0} L{x1 - r},{y0} Q{x1},{y0} {x1},{y0 + r} L{x1},{y1 - r} "
            f"Q{x1},{y1} {x1 - r},{y1} L{x0 + r},{y1} Q{x0},{y1} {x0},{y1 - r} "
            f"L{x0},{y0 + r} Q{x0},{y0} {x0 + r},{y0} Z")


def add_rrect(x0, y0, x1, y1, r=8, fill=BOX_GRAY, line="#3a3a3a", lw=1.2):
    shapes.append(dict(type="path", path=rrect_path(x0, y0, x1, y1, r), xref="x3", yref="y3",
                       fillcolor=fill, line=dict(color=line, width=lw), layer="below"))


def add_rect(x0, y0, x1, y1, line="#111", lw=1, fill=None):
    shapes.append(dict(type="rect", x0=x0, y0=y0, x1=x1, y1=y1, xref="x3", yref="y3",
                       line=dict(color=line, width=lw), fillcolor=fill or "rgba(0,0,0,0)",
                       layer="below"))


def add_line(x0, y0, x1, y1, color="#222", lw=1):
    shapes.append(dict(type="line", x0=x0, y0=y0, x1=x1, y1=y1, xref="x3", yref="y3",
                       line=dict(color=color, width=lw)))


def add_text(x, y, s, size, bold=False, family=SERIF, color="#111", xanchor="center"):
    anns.append(dict(x=x, y=y, xref="x3", yref="y3", text=f"<b>{s}</b>" if bold else s,
                     showarrow=False, font=dict(family=family, size=size, color=color),
                     xanchor=xanchor, yanchor="middle"))


def add_arrow(x0, y0, x1, y1, head=2, size=1.4, width=1, color="#111"):
    anns.append(dict(x=x1, y=y1, ax=x0, ay=y0, xref="x3", yref="y3", axref="x3", ayref="y3",
                     text="", showarrow=True, arrowhead=head, arrowsize=size, arrowwidth=width,
                     arrowcolor=color, standoff=0))


def draw_markers(ox, oy, c, show_global):
    if show_global:
        gx, gy0, gy1 = c["glob"]
        px_trace([ox + gx, ox + gx], [oy + gy0, oy + gy1], mode="lines",
                 line=dict(color=BLUE, width=2.5))
    (lx0, ly0), (lx1, ly1) = c["local"]
    px_trace([ox + lx0, ox + lx1], [oy + ly0, oy + ly1], mode="lines",
             line=dict(color="#111", width=2))
    # plain features appear everywhere in FedAvg, and only during local update in pFedPT
    if show_global or not c["tri_open"]:
        for key, sym, fill in (("tri", "triangle-up", TRI_FILL), ("circ", "circle", GREEN)):
            pts = c[key]
            px_trace([ox + p[0] for p in pts], [oy + p[1] for p in pts], mode="markers",
                     marker=dict(symbol=sym, size=9 if sym == "circle" else 10, color=fill,
                                 line=dict(color="#111", width=1)))
    for key, sym, col in (("tri_open", "triangle-up-open", TRI_OPEN),
                          ("circ_open", "circle-open", LIGHT_GREEN)):
        pts = c[key]
        if pts:
            px_trace([ox + p[0] for p in pts], [oy + p[1] for p in pts], mode="markers",
                     marker=dict(symbol=sym, size=10 if sym == "circle-open" else 11, color=col,
                                 line=dict(color=col, width=1.3)))
    if show_global:
        (ax0, ay0), (ax1, ay1) = c["drift"]
        add_arrow(ox + ax0, oy + ay0, ox + ax1, oy + ay1, head=2, size=1.0, width=1)


def draw_panel(frame, title, server_xy, clients, sets, stage, server_lines):
    x0, y0, x1, y1 = frame
    add_rect(x0, y0, x1, y1)
    add_rect(x0, y0, x1, y0 + 22.5)
    add_text((x0 + x1) / 2, y0 + 11.5, title, 15.5, bold=True)
    sx, sy = server_xy
    add_rrect(sx, sy, sx + 79, sy + 78)
    add_text(sx + 39.5, sy - 12, "Server", 15.5)
    for (a, b), color, lw in server_lines:
        px_trace([sx + a[0], sx + b[0]], [sy + a[1], sy + b[1]], mode="lines",
                 line=dict(color=color, width=lw))
    centers = []
    for (cx, cy), key, label in zip(clients, sets, ("Client 1", "Client 2")):
        add_rrect(cx, cy, cx + 78, cy + 78)
        add_text(cx + 39, cy + 89, label, 15.5)
        draw_markers(cx, cy, client_sets[key], stage == "local")
        centers.append(cx + 39)
    top = clients[0][1]
    scx = sx + 39
    if stage == "local":
        bus = sy + 78 + 14
        add_line(scx, sy + 78, scx, bus)
        add_line(centers[0], bus, centers[1], bus)
        for c in centers:
            add_arrow(c, bus, c, top, head=2, size=1.4)
    else:
        bus = top - 15
        for c in centers:
            add_line(c, top, c, bus)
        add_line(centers[0], bus, centers[1], bus)
        add_arrow(scx, bus, scx, sy + 78, head=2, size=1.4)


def blue_local(x, a, b):
    return [(((x, a), (x, b)), BLUE, 2.5)]


draw_panel((10, 62, 267, 320), "Broadcasting and Local Update", (103, 110),
           [(23, 218), (176, 218)], ["fedavg_c1", "fedavg_c2"], "local",
           blue_local(38, 11, 66))
draw_panel((297, 62, 553, 320), "Aggregation", (389, 110),
           [(307, 218), (461, 218)], ["fedavg_c1", "fedavg_c2"], "agg",
           [(((12, 12), (63, 63)), "#111", 2), (((8, 61), (70, 16)), "#111", 2)]
           + blue_local(39, 9, 64))
draw_panel((10, 379, 267, 638), "Broadcasting and Local Update", (102, 428),
           [(22, 536), (175, 536)], ["pfedpt_c1", "pfedpt_c2"], "local",
           blue_local(38, 11, 65))
draw_panel((296, 379, 552, 638), "Aggregation", (389, 428),
           [(307, 536), (461, 536)], ["pfedpt_c1", "pfedpt_c2"], "agg",
           [(((29, 11), (48, 64)), "#111", 2), (((28, 64), (45, 11)), "#111", 2)]
           + blue_local(38, 9, 64))

# ---------------- top legend ----------------
px_trace([37], [27], mode="markers",
         marker=dict(symbol="circle", size=15, color=GREEN, line=dict(color="#222", width=1.2)))
px_trace([176], [27], mode="markers",
         marker=dict(symbol="triangle-up", size=16, color=TRI_FILL, line=dict(color="#222", width=1.2)))
px_trace([289], [27], mode="markers",
         marker=dict(symbol="circle-open", size=15, color=LIGHT_GREEN, line=dict(color=LIGHT_GREEN, width=1.4)))
px_trace([446], [26], mode="markers",
         marker=dict(symbol="triangle-up-open", size=18, color=TRI_OPEN, line=dict(color=TRI_OPEN, width=1.4)))
px_trace([602, 635], [27, 27], mode="lines", line=dict(color=BLUE, width=2.5))
px_trace([790, 825], [27, 27], mode="lines", line=dict(color="#111", width=2.5))
legend_text = [(93, 93, "Class 1", "Feature"), (222, 222, "Class 2", "Feature"),
               (363, 363, "Class 1 Feature", "with Prompts"),
               (518, 518, "Class 2 Feature", "with Prompts"),
               (703, 705, "Global", "Classifier Proxy"), (893, 888, "Local", "Classifier Proxy")]
for x1, x2, l1, l2 in legend_text:
    add_text(x1, 17, l1, 16, bold=True)
    add_text(x2, 37, l2, 16, bold=True)

# ---------------- captions ----------------
for (x, y), s in zip([(278, 353), (781, 353), (281, 668), (782, 668)], captions):
    add_text(x, y, s, 19.5)

# ---------------- feature scatter plots ----------------
def scatter(points, color, xa, ya):
    fig.add_trace(go.Scatter(x=[p[0] for p in points], y=[p[1] for p in points], mode="markers",
                             marker=dict(color=color, size=5, line=dict(width=0)),
                             xaxis=xa, yaxis=ya, showlegend=False, hoverinfo="skip"))


scatter(fedavg_class1, ORANGE, "x", "y")
scatter(fedavg_class4, OLIVE, "x", "y")
scatter(pfedpt_class1, ORANGE, "x2", "y2")
scatter(pfedpt_class4, OLIVE, "x2", "y2")

for notes, ys, xs in ((fedavg_notes, (79, 290, 290), (770, 694, 853)),
                      (pfedpt_notes, (399, 608, 608), (776, 697, 856))):
    for s, y, x in zip(notes, ys, xs):
        add_text(x, y, s, 16, color="#000")

# small legends inside each feature plot
for top in (72, 391):
    add_rrect(865, top, 926, top + 29, r=3, fill="rgba(255,255,255,0.85)", line="#cccccc", lw=1)
    for i, (name, col) in enumerate(zip(legend_classes, (ORANGE, OLIVE))):
        yy = top + 9 + i * 12.5
        px_trace([877], [yy], mode="markers", marker=dict(color=col, size=4.5))
        add_text(890, yy, name, 8.5, family=SANS, color="#222", xanchor="left")

axis_style = dict(showline=True, mirror=True, linecolor="#222", linewidth=1, ticks="outside",
                  ticklen=3.5, tickwidth=0.8, tickcolor="#222", showgrid=False, zeroline=False,
                  tickfont=dict(family=SANS, size=8.5, color="#222"), fixedrange=True)
dom_x = [622 / W, 930 / W]

fig.update_layout(
    width=W, height=H, autosize=False, margin=dict(l=0, r=0, t=0, b=0),
    paper_bgcolor="white", plot_bgcolor="rgba(0,0,0,0)", showlegend=False,
    xaxis=dict(domain=dom_x, range=[-66.8, 64.7], tickvals=x_ticks, anchor="y", **axis_style),
    yaxis=dict(domain=[1 - 299 / H, 1 - 67 / H], range=[-33.0, 32.9], tickvals=fedavg_y_ticks,
               anchor="x", **axis_style),
    xaxis2=dict(domain=dom_x, range=[-63.3, 64.1], tickvals=x_ticks, anchor="y2", **axis_style),
    yaxis2=dict(domain=[1 - 617 / H, 1 - 388 / H], range=[-28.2, 29.1], tickvals=pfedpt_y_ticks,
                anchor="x2", **axis_style),
    xaxis3=dict(domain=[0, 1], range=[0, W], visible=False, anchor="y3", fixedrange=True),
    yaxis3=dict(domain=[0, 1], range=[H, 0], visible=False, anchor="x3", fixedrange=True),
    shapes=shapes, annotations=anns,
)

fig.write_html("out.html")
